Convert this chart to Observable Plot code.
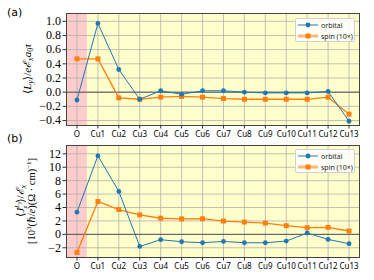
<!DOCTYPE html>
<html><head><meta charset="utf-8">
<script src="https://cdn.jsdelivr.net/npm/d3@7"></script>
<script src="https://cdn.jsdelivr.net/npm/@observablehq/plot@0.6"></script>
<style>
body{margin:0;background:#fff;}
#wrap{position:relative;width:374px;height:280px;overflow:hidden;}
#wrap svg{display:block;}
.plab{position:absolute;font-family:"DejaVu Sans";font-size:11px;color:#000;}
.leg{position:absolute;width:60px;height:24px;border:1px solid #d0d0d0;border-radius:2px;background:rgba(255,255,255,0.85);box-sizing:border-box;font-family:"Noto Sans";font-size:7px;color:#222;}
.leg div{position:absolute;left:2px;height:10px;display:flex;align-items:center;}
.leg span{margin-left:3px;}
</style></head>
<body><div id="wrap"></div>
<script>
const categories = ["O","Cu1","Cu2","Cu3","Cu4","Cu5","Cu6","Cu7","Cu8","Cu9","Cu10","Cu11","Cu12","Cu13"];
const orbitalA = [-0.11,0.97,0.32,-0.10,0.02,-0.03,0.02,0.02,0.00,-0.01,-0.01,-0.01,0.01,-0.41];
const spinA    = [0.47,0.47,-0.08,-0.10,-0.07,-0.06,-0.07,-0.09,-0.10,-0.10,-0.10,-0.10,-0.07,-0.31];
const orbitalB = [3.3,11.7,6.4,-1.8,-0.8,-1.1,-1.25,-1.05,-1.25,-1.25,-1.0,0.2,-0.75,-1.4];
const spinB    = [-2.7,4.9,3.7,2.9,2.4,2.3,2.33,1.98,1.83,1.68,1.29,0.99,1.04,0.5];
const yTicksA = [-0.4,-0.2,0.0,0.2,0.4,0.6,0.8,1.0];
const yTicksB = [-2,0,2,4,6,8,10,12];
const seriesNames = ["orbital","spin (10×)"];

const BLUE="#1f77b4", ORANGE="#ff7f0e";
const idx = categories.map((_,i)=>i);
const regions = [
  {x1: -0.5, x2: 0.5, fill: "#ffcccc"},
  {x1: 0.5, x2: categories.length-0.5, fill: "#ffffcc"}
];

function panel(orb, spin, yDomain, yTicks, fmt, mt, mb, height){
  const rowsO = orb.map((v,i)=>({i, v}));
  const rowsS = spin.map((v,i)=>({i, v}));
  return Plot.plot({
    width: 374, height, marginLeft: 66, marginRight: 15, marginTop: mt, marginBottom: mb,
    x: {domain: [-0.5, categories.length-0.5]},
    y: {domain: yDomain},
    marks: [
      Plot.rectY(regions, {x1:"x1", x2:"x2", y1: yDomain[0], y2: yDomain[1], fill: d=>d.fill}),
      Plot.gridX(idx, {stroke:"#b0b0b0", strokeOpacity:1, strokeWidth:0.8}),
      Plot.gridY(yTicks, {stroke:"#b0b0b0", strokeOpacity:1, strokeWidth:0.8}),
      Plot.ruleY([0], {stroke:"#555", strokeWidth:1}),
      Plot.line(rowsS, {x:"i", y:"v", stroke:ORANGE, strokeWidth:1.3}),
      Plot.dot(rowsS, {x:"i", y:"v", symbol:"square", r:2.8, fill:ORANGE, stroke:"none"}),
      Plot.line(rowsO, {x:"i", y:"v", stroke:BLUE, strokeWidth:1}),
      Plot.dot(rowsO, {x:"i", y:"v", symbol:"circle", r:2.4, fill:BLUE, stroke:"none"}),
      Plot.frame({stroke:"#444", strokeWidth:1}),
      Plot.axisX(idx, {tickFormat: i=>categories[i], tickSize:3.5, tickPadding:2, fontFamily:"Noto Sans", fontSize:8, label:null, stroke:"#333"}),
      Plot.axisY(yTicks, {tickFormat: fmt, tickSize:3.5, tickPadding:2, fontFamily:"Liberation Serif", fontSize:12, label:null, stroke:"#333"})
    ]
  });
}

const wrap = document.getElementById("wrap");
const svgA = panel(orbitalA, spinA, [-0.47,1.11], yTicksA, d3.format(".1f"), 13, 15, 140);
const svgB = panel(orbitalB, spinB, [-3.45,13.24], yTicksB, d3.format("d"), 5, 23, 140);
wrap.appendChild(svgA);
wrap.appendChild(svgB);

function addLabel(svg, x, y, parts, size){
  const t = d3.select(svg).append("text")
    .attr("transform", `translate(${x},${y}) rotate(-90)`)
    .attr("text-anchor","middle")
    .attr("font-family","Liberation Serif, DejaVu Serif")
    .attr("font-size", size).attr("fill","#000");
  for (const p of parts){
    const s = t.append("tspan").text(p.t);
    if (p.i) s.attr("font-style","italic");
    if (p.s) s.attr("font-size", p.s);
    if (p.dy) s.attr("dy", p.dy);
    if (p.dx) s.attr("dx", p.dx);
  }
}
addLabel(svgA, 31, 69, [
  {t:"⟨"},{t:"L",i:1},{t:"y",i:1,s:8,dy:2},{t:"⟩/",dy:-2},{t:"e",i:1},{t:"ℰ",i:1},
  {t:"x",i:1,s:8,dy:2},{t:"a",i:1,dy:-2},{t:"0",s:8,dy:2},{t:"τ",i:1,dy:-2}
], 11);
addLabel(svgB, 24, 61, [
  {t:"⟨"},{t:"J",i:1},{t:"L",i:1,s:7,dy:-5},{t:"y",i:1,s:5.5,dy:1.5},
  {t:"z",i:1,s:7,dx:-7,dy:6},{t:"⟩/",dx:3,dy:-2.5},{t:"ℰ",i:1},{t:"x",i:1,s:8,dy:2}
], 11);
addLabel(svgB, 35, 61, [
  {t:"[10"},{t:"3",s:7,dy:-4},{t:"(ℏ/",dy:4},{t:"e",i:1},{t:")(Ω · cm)"},{t:"−1",s:7,dy:-4},{t:"]",dy:4}
], 10.5);

function legend(top){
  const d = document.createElement("div");
  d.className="leg"; d.style.left="295px"; d.style.top=top+"px";
  const sym = [
    `<svg width="20" height="8"><line x1="0" y1="4" x2="20" y2="4" stroke="${BLUE}" stroke-width="1"/><circle cx="10" cy="4" r="2.4" fill="${BLUE}"/></svg>`,
    `<svg width="20" height="8"><line x1="0" y1="4" x2="20" y2="4" stroke="${ORANGE}" stroke-opacity="0.55" stroke-width="3"/><rect x="7.5" y="1.5" width="5" height="5" fill="${ORANGE}"/></svg>`
  ];
  seriesNames.forEach((n,k)=>{
    const r = document.createElement("div");
    r.style.top = (1 + k*11)+"px";
    r.innerHTML = sym[k] + `<span>${n}</span>`;
    d.appendChild(r);
  });
  wrap.appendChild(d);
}
legend(18);
legend(149);

const la = document.createElement("div"); la.className="plab"; la.style.left="7px"; la.style.top="6px"; la.textContent="(a)"; wrap.appendChild(la);
const lb = document.createElement("div"); lb.className="plab"; lb.style.left="7px"; lb.style.top="132px"; lb.textContent="(b)"; wrap.appendChild(lb);
</script></body></html>
